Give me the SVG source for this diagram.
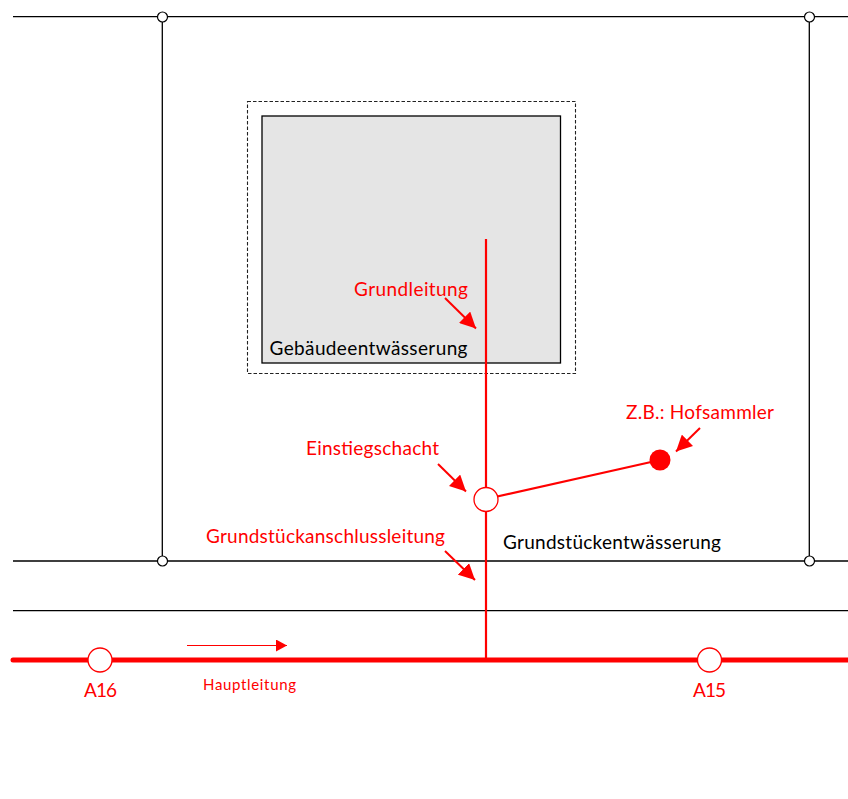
<svg xmlns="http://www.w3.org/2000/svg" width="848" height="799" viewBox="0 0 848 799">
<style>
.b{stroke:#000;stroke-width:1.3;fill:none}
.r{stroke:#f00;fill:none}
.j{fill:#fff;stroke:#000;stroke-width:1.2}
.m{fill:#fff;stroke:#f00;stroke-width:1.3}
text{font-family:Lato,"Open Sans",sans-serif;font-size:19px}
.t{fill:#f00}
.k{fill:#000}
</style>
<defs>
<marker id="a" markerUnits="userSpaceOnUse" markerWidth="18" markerHeight="16" refX="16" refY="8" orient="auto"><path d="M0 0L16 8L0 16z" fill="#f00"/></marker>
<marker id="s" markerUnits="userSpaceOnUse" markerWidth="12" markerHeight="12" refX="11" refY="6" orient="auto"><path d="M0 0L11 6L0 12z" fill="#f00"/></marker>
</defs>
<g id="lines">
<path class="b" d="M13 16.700H848M13 561H848M13 610.700H848M162.300 17V561M809.300 17V561"/>
</g>
<g id="gebaeude">
<rect x="247.500" y="101.500" width="328" height="272" fill="#fff" stroke="#222" stroke-width="1.100" stroke-dasharray="3.500 2"/>
<rect x="262" y="116" width="298.500" height="247" fill="#e5e5e5" stroke="#000" stroke-width="1.300"/>
<text class="k" x="269.500" y="355" textLength="198">Gebäudeentwässerung</text>
</g>
<g id="connectors">
<path class="r" stroke-width="2.200" d="M486 239V659"/>
<path class="r" stroke-width="2.200" d="M486 499L660 460"/>
<path d="M13 660H848" fill="none" stroke="#f00" stroke-width="5" stroke-linecap="round"/>
<path class="r" stroke-width="1.200" d="M187 645.500H287" marker-end="url(#s)"/>
<path class="r" stroke-width="2" d="M445 298L476 328.500" marker-end="url(#a)"/>
<path class="r" stroke-width="2" d="M438 464L466 491.500" marker-end="url(#a)"/>
<path class="r" stroke-width="2" d="M445 551L475 580" marker-end="url(#a)"/>
<path class="r" stroke-width="2" d="M700 428L676 451.500" marker-end="url(#a)"/>
</g>
<g id="j1"><circle class="j" cx="162.500" cy="17" r="5"/></g>
<g id="j2"><circle class="j" cx="809.500" cy="17" r="5"/></g>
<g id="j3"><circle class="j" cx="162.500" cy="561" r="5"/></g>
<g id="j4"><circle class="j" cx="809.500" cy="561" r="5"/></g>
<g id="einstiegschacht"><circle class="m" cx="486" cy="499.500" r="12"/><text class="t" x="306" y="455" textLength="133">Einstiegschacht</text></g>
<g id="hofsammler"><circle cx="660" cy="460" r="10.500" fill="#f00"/><text class="t" x="626" y="419" textLength="148">Z.B.: Hofsammler</text></g>
<g id="a16"><circle class="m" cx="100" cy="660" r="12"/><text class="t" x="84" y="697" textLength="33">A16</text></g>
<g id="a15"><circle class="m" cx="709.500" cy="660" r="12"/><text class="t" x="693" y="697" textLength="33">A15</text></g>
<g id="labels">
<text class="t" x="354" y="296" textLength="114">Grundleitung</text>
<text class="t" x="206" y="543" textLength="239">Grundstückanschlussleitung</text>
<text class="k" x="503" y="549" textLength="218">Grundstückentwässerung</text>
<text class="t" x="203" y="690" textLength="93" style="font-size:15px">Hauptleitung</text>
</g>
</svg>
